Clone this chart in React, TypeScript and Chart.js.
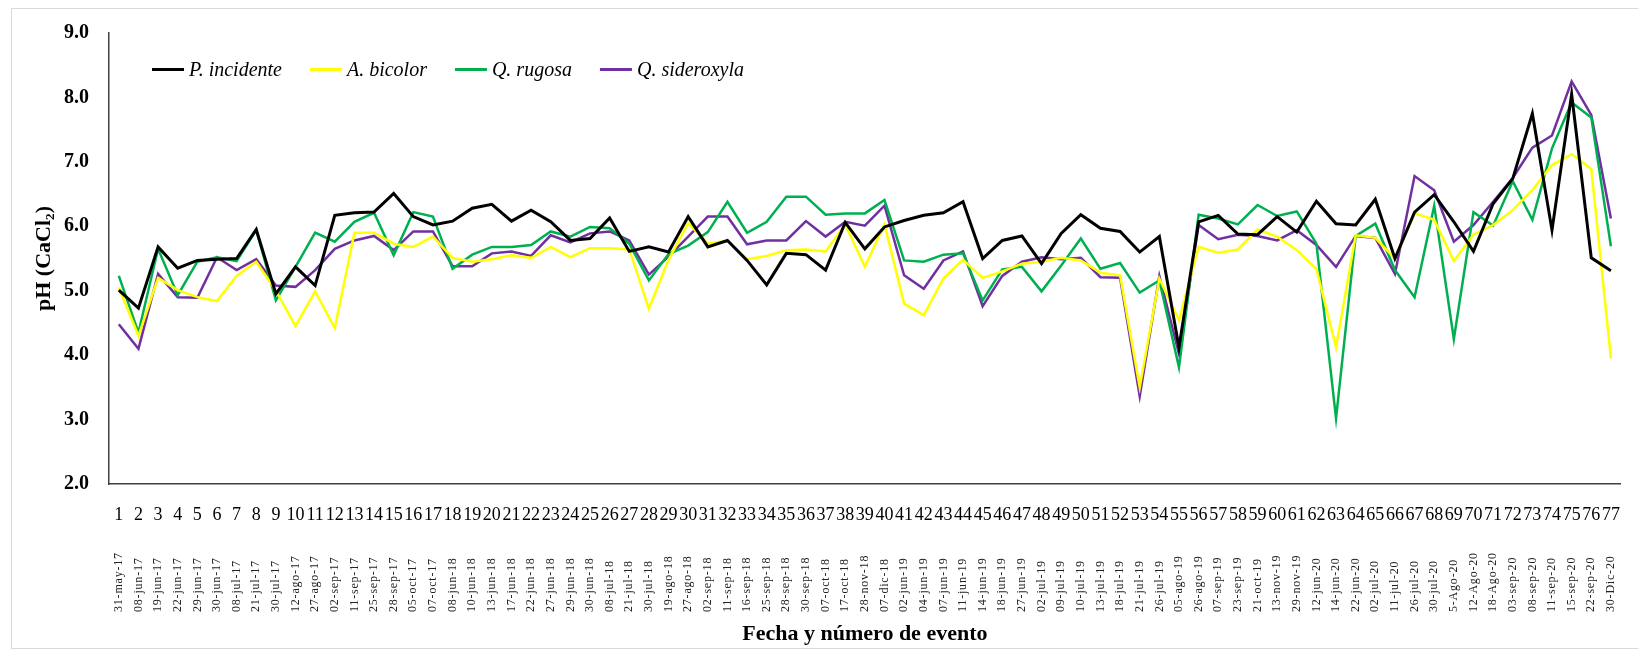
import React, { useEffect, useRef } from "react";
import { Chart, registerables } from "chart.js";

Chart.register(...registerables);

const eventNumbers: string[] = Array.from({ length: 77 }, (_, i) => String(i + 1));

const eventDates: string[] = [
  "31-may-17", "08-jun-17", "19-jun-17", "22-jun-17", "29-jun-17", "30-jun-17", "08-jul-17", "21-jul-17",
  "30-jul-17", "12-ago-17", "27-ago-17", "02-sep-17", "11-sep-17", "25-sep-17", "28-sep-17", "05-oct-17",
  "07-oct-17", "08-jun-18", "10-jun-18", "13-jun-18", "17-jun-18", "22-jun-18", "27-jun-18", "29-jun-18",
  "30-jun-18", "08-jul-18", "21-jul-18", "30-jul-18", "19-ago-18", "27-ago-18", "02-sep-18", "11-sep-18",
  "16-sep-18", "25-sep-18", "28-sep-18", "30-sep-18", "07-oct-18", "17-oct-18", "28-nov-18", "07-dic-18",
  "02-jun-19", "04-jun-19", "07-jun-19", "11-jun-19", "14-jun-19", "18-jun-19", "27-jun-19", "02-jul-19",
  "09-jul-19", "10-jul-19", "13-jul-19", "18-jul-19", "21-jul-19", "26-jul-19", "05-ago-19", "26-ago-19",
  "07-sep-19", "23-sep-19", "21-oct-19", "13-nov-19", "29-nov-19", "12-jun-20", "14-jun-20", "22-jun-20",
  "02-jul-20", "11-jul-20", "26-jul-20", "30-jul-20", "5-Ago-20", "12-Ago-20", "18-Ago-20", "03-sep-20",
  "08-sep-20", "11-sep-20", "15-sep-20", "22-sep-20", "30-Dic-20",
];

const pIncidente: number[] = [
  5.01, 4.73, 5.68, 5.35, 5.47, 5.49, 5.5, 5.95, 4.95, 5.37, 5.08, 6.17, 6.21, 6.22, 6.51, 6.15,
  6.02, 6.08, 6.28, 6.34, 6.08, 6.25, 6.07, 5.78, 5.81, 6.13, 5.61, 5.68, 5.6, 6.15, 5.68, 5.78,
  5.47, 5.09, 5.58, 5.56, 5.32, 6.06, 5.65, 5.99, 6.09, 6.17, 6.21, 6.38, 5.5, 5.78, 5.85, 5.42,
  5.89, 6.18, 5.97, 5.92, 5.6, 5.84, 4.12, 6.07, 6.17, 5.88, 5.87, 6.15, 5.91, 6.39, 6.04, 6.02,
  6.42, 5.5, 6.22, 6.49, 6.07, 5.61, 6.35, 6.74, 7.75, 5.94, 8.05, 5.51, 5.31,
];

const aBicolor: number[] = [
  5.05, 4.3, 5.2, 5.01, 4.9, 4.84, 5.23, 5.45, 5.0, 4.45, 4.99, 4.42, 5.9, 5.9, 5.73, 5.68,
  5.84, 5.51, 5.45, 5.49, 5.55, 5.51, 5.68, 5.52, 5.66, 5.66, 5.64, 4.72, 5.48, 6.05, 5.73, 5.78,
  5.49, 5.54, 5.63, 5.64, 5.61, 6.03, 5.37, 6.03, 4.8, 4.62, 5.19, 5.48, 5.2, 5.3, 5.42, 5.45,
  5.51, 5.47, 5.28, 5.24, 3.5, 5.19, 4.54, 5.68, 5.59, 5.64, 5.95, 5.84, 5.63, 5.34, 4.12, 5.86,
  5.82, 5.5, 6.2, 6.1, 5.46, 5.87, 6.02, 6.25, 6.56, 6.95, 7.12, 6.89, 3.95,
];

const qRugosa: number[] = [
  5.23, 4.35, 5.65, 4.93, 5.45, 5.52, 5.46, 5.94, 4.85, 5.37, 5.9, 5.76, 6.07, 6.21, 5.55, 6.22,
  6.15, 5.34, 5.56, 5.68, 5.68, 5.71, 5.92, 5.84, 5.99, 5.97, 5.73, 5.16, 5.57, 5.7, 5.91, 6.38,
  5.9, 6.07, 6.46, 6.46, 6.18, 6.2, 6.2, 6.41, 5.47, 5.45, 5.56, 5.58, 4.85, 5.33, 5.37, 4.99,
  5.39, 5.81, 5.34, 5.43, 4.97, 5.16, 3.81, 6.18, 6.12, 6.03, 6.33, 6.16, 6.23, 5.73, 3.02, 5.85,
  6.04, 5.32, 4.9, 6.32, 4.25, 6.22, 6.01, 6.7, 6.1, 7.21, 7.92, 7.69, 5.69,
];

const qSideroxyla: number[] = [
  4.48, 4.1, 5.26, 4.9, 4.89, 5.52, 5.32, 5.49, 5.08, 5.06, 5.32, 5.65, 5.78, 5.85, 5.63, 5.92,
  5.92, 5.38, 5.38, 5.58, 5.61, 5.54, 5.86, 5.75, 5.89, 5.92, 5.78, 5.25, 5.53, 5.84, 6.15, 6.15,
  5.72, 5.78, 5.78, 6.08, 5.84, 6.07, 6.01, 6.32, 5.24, 5.03, 5.47, 5.61, 4.76, 5.23, 5.45, 5.52,
  5.49, 5.51, 5.21, 5.2, 3.36, 5.23, 4.02, 6.02, 5.8, 5.87, 5.85, 5.78, 5.94, 5.71, 5.37, 5.85,
  5.82, 5.26, 6.78, 6.56, 5.76, 6.02, 6.38, 6.75, 7.22, 7.41, 8.25, 7.73, 6.12,
];

const seriesNames: string[] = ["P. incidente", "A. bicolor", "Q. rugosa", "Q. sideroxyla"];
const seriesColors: string[] = ["#000000", "#FFFF00", "#00B050", "#7030A0"];
const seriesWidths: number[] = [3, 2.5, 2.5, 2.5];

const SERIF = '"Liberation Serif", "DejaVu Serif", serif';

const inlineLegend = {
  id: "inlineLegend",
  afterDatasetsDraw(chart: any) {
    const { ctx, chartArea } = chart;
    ctx.save();
    ctx.font = `italic 20px ${SERIF}`;
    ctx.textBaseline = "middle";
    ctx.textAlign = "left";
    let x = chartArea.left + 43;
    const y = chartArea.top + 36.5;
    chart.data.datasets.forEach((ds: any) => {
      ctx.strokeStyle = ds.borderColor;
      ctx.lineWidth = 3;
      ctx.beginPath();
      ctx.moveTo(x, y);
      ctx.lineTo(x + 32, y);
      ctx.stroke();
      ctx.fillStyle = "#000000";
      ctx.fillText(ds.label, x + 37, y + 1);
      x += 37 + ctx.measureText(ds.label).width + 28;
    });
    ctx.restore();
  },
};

// Date labels of the second category row: read bottom-to-top, starting from a common bottom line
const dateRow = {
  id: "dateRow",
  afterDraw(chart: any) {
    const { ctx } = chart;
    const xs = chart.scales.x;
    const x2 = chart.scales.x2;
    const labels: string[] = x2.getLabels();
    const baseY = x2.bottom - 36;
    ctx.save();
    ctx.font = `12px ${SERIF}`;
    try {
      (ctx as any).letterSpacing = "0.8px";
    } catch (e) {
      /* ignore */
    }
    ctx.fillStyle = "#222222";
    ctx.textAlign = "left";
    ctx.textBaseline = "middle";
    labels.forEach((lab, i) => {
      const px = xs.getPixelForValue(i);
      ctx.save();
      ctx.translate(px, baseY);
      ctx.rotate(-Math.PI / 2);
      ctx.fillText(lab, 0, 0);
      ctx.restore();
    });
    ctx.restore();
  },
};

export default function App() {
  const canvasRef = useRef<HTMLCanvasElement | null>(null);

  useEffect(() => {
    if (!canvasRef.current) return;
    const values = [pIncidente, aBicolor, qRugosa, qSideroxyla];
    const chart = new Chart(canvasRef.current, {
      type: "line",
      data: {
        labels: eventNumbers,
        datasets: values.map((v, i) => ({
          label: seriesNames[i],
          data: v,
          borderColor: seriesColors[i],
          backgroundColor: seriesColors[i],
          borderWidth: seriesWidths[i],
          pointRadius: 0,
          pointHoverRadius: 0,
          tension: 0,
          fill: false,
          xAxisID: "x",
          yAxisID: "y",
        })),
      },
      options: {
        responsive: false,
        animation: false,
        layout: { padding: { left: 0, right: 15, top: 24, bottom: 0 } },
        plugins: {
          legend: { display: false },
          tooltip: { enabled: false },
        },
        scales: {
          y: {
            min: 2,
            max: 9,
            ticks: {
              stepSize: 1,
              padding: 20,
              color: "#000000",
              font: { family: SERIF, size: 20, weight: "bold" },
              callback: (v: any) => Number(v).toFixed(1),
            },
            grid: { display: false, drawTicks: false },
            border: { display: true, color: "#404040", width: 1.5 },
            title: {
              display: true,
              text: "pH (CaCl₂)",
              color: "#000000",
              font: { family: SERIF, size: 22, weight: "bold" },
              padding: { top: 19, bottom: 0 },
            },
            afterFit: (scale: any) => {
              scale.width = 97;
              scale.paddingTop = 0;
              scale.paddingBottom = 0;
            },
          },
          x: {
            type: "category",
            position: "bottom",
            offset: true,
            ticks: {
              autoSkip: false,
              maxRotation: 0,
              minRotation: 0,
              padding: 20,
              color: "#000000",
              font: { family: SERIF, size: 18 },
            },
            grid: { display: false, drawTicks: false },
            border: { display: true, color: "#404040", width: 1.5 },
            afterFit: (scale: any) => {
              scale.height = 42;
            },
          },
          x2: {
            type: "category",
            position: "bottom",
            labels: eventDates,
            offset: true,
            ticks: { display: false },
            grid: { display: false, drawTicks: false },
            border: { display: false },
            title: {
              display: true,
              text: "Fecha y número de evento",
              color: "#000000",
              font: { family: SERIF, size: 22, weight: "bold" },
              padding: { top: 0, bottom: 0 },
            },
            afterFit: (scale: any) => {
              scale.height = 122;
            },
          },
        },
      },
      plugins: [inlineLegend, dateRow],
    } as any);
    return () => chart.destroy();
  }, []);

  return (
    <div
      style={{
        width: 1628,
        height: 639,
        border: "1px solid #d9d9d9",
        marginLeft: 3,
        background: "#ffffff",
      }}
    >
      <canvas ref={canvasRef} width={1628} height={639} style={{ display: "block" }} />
    </div>
  );
}
